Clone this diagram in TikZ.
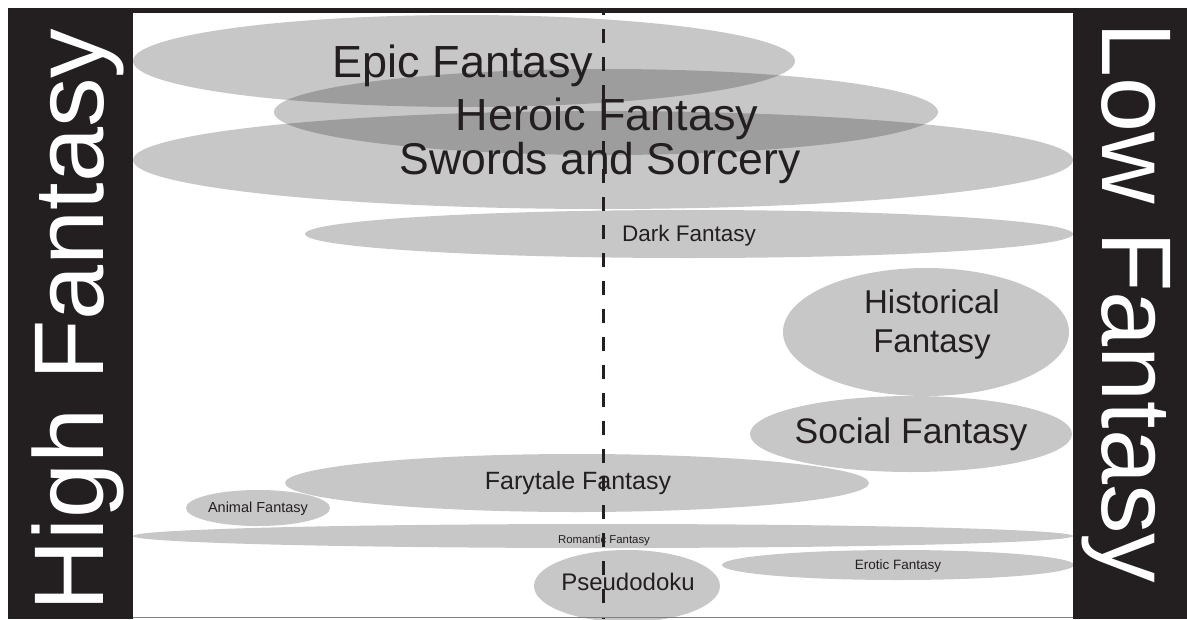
\documentclass[tikz,border=0pt]{standalone}
\usepackage{fontspec}
\setmainfont{Liberation Sans}
\usetikzlibrary{shapes.geometric}
\definecolor{barblack}{HTML}{231F20}
\tikzset{
  blob/.style={ellipse,fill=barblack,fill opacity=0.25,draw=none,inner sep=0pt},
  lbl/.style={text=barblack,inner sep=0pt,align=center},
  side/.style={text=white,inner sep=0pt,anchor=base,font=\fontsize{99}{99}\selectfont}
}
\newcommand{\fs}[1]{\fontsize{#1}{#1}\selectfont}
\begin{document}
\begin{tikzpicture}[x=1pt,y=-1pt]
\useasboundingbox (0,0) rectangle (1187,619);

\coordinate (axtop) at (603,13);
\coordinate (axbot) at (603,619);
\draw[barblack,line width=3pt,dash pattern=on 14pt off 14pt,dash phase=12pt]
(axtop) -- (axbot);

\node[blob,minimum width=662pt,minimum height=92pt] (epic) at (464,61) {};
\node[blob,minimum width=664pt,minimum height=86pt] (heroic) at (606,112) {};
\node[blob,minimum width=940pt,minimum height=98pt] (swords) at (603,160) {};
\node[blob,minimum width=768pt,minimum height=48pt] (dark) at (689,234) {};
\node[blob,minimum width=286pt,minimum height=128pt] (hist) at (926,332) {};
\node[blob,minimum width=322pt,minimum height=76pt] (social) at (911,434) {};
\node[blob,minimum width=584pt,minimum height=58pt] (fairy) at (577,483) {};
\node[blob,minimum width=144pt,minimum height=36pt] (animal) at (258,508) {};
\node[blob,minimum width=940pt,minimum height=24pt] (romantic) at (603,536) {};
\node[blob,minimum width=352pt,minimum height=30pt] (erotic) at (898,565) {};
\node[blob,minimum width=186pt,minimum height=72pt] (pseudo) at (627,586) {};

\node[lbl,font=\fs{45}] (epiclbl) at ([shift={(-1,5)}]epic) {Epic Fantasy};
\node[lbl,font=\fs{45}] (heroiclbl) at ([shift={(1,7)}]heroic) {Heroic Fantasy};
\node[lbl,font=\fs{44.5}] (swordslbl) at ([shift={(-3,3)}]swords) {Swords and Sorcery};
\node[lbl,font=\fs{22.5}] (darklbl) at ([shift={(0,2)}]dark) {Dark Fantasy};
\node[lbl,font=\fontsize{33}{39}\selectfont] (histlbl) at ([shift={(6,-8)}]hist) {Historical\\Fantasy};
\node[lbl,font=\fs{35.5}] (sociallbl) at ([shift={(0,0)}]social) {Social Fantasy};
\node[lbl,font=\fs{25}] (fairylbl) at ([shift={(1,0)}]fairy) {Farytale Fantasy};
\node[lbl,font=\fs{14.5}] (animallbl) at ([shift={(0,1)}]animal) {Animal Fantasy};
\node[lbl,font=\fs{11.4}] (romanticlbl) at ([shift={(1,5)}]romantic) {Romantic Fantasy};
\node[lbl,font=\fs{13.5}] (eroticlbl) at ([shift={(0,1)}]erotic) {Erotic Fantasy};
\node[lbl,font=\fs{24}] (pseudolbl) at ([shift={(1,-4)}]pseudo) {Pseudodoku};

\draw[gray,line width=1pt] (133,617) -- (1073,617);
\fill[barblack] (8,8) rectangle (1187,13);
\fill[barblack] (8,8) rectangle (133,619);
\fill[barblack] (1073,8) rectangle (1187,619);

\node[side,rotate=90] (high) at (103,320) {High Fantasy};
\node[side,rotate=-90] (low) at (1102,303) {Low Fantasy};
\end{tikzpicture}
\end{document}
